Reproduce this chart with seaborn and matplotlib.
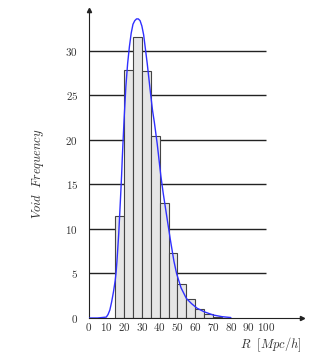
import numpy as np
import seaborn as sns
import matplotlib.pyplot as plt

# histogram of void radii
bin_edges = [15, 20, 25, 30, 35, 40, 45, 50, 55, 60, 65, 70, 75, 80]
counts = [11.5, 27.9, 31.6, 27.7, 20.5, 12.9, 7.3, 3.8, 2.1, 1.0, 0.48, 0.15, 0.05]

# fitted curve
curve_r = [0, 5, 10, 11, 12, 13, 14, 15, 15.5, 16, 17, 18, 18.6, 19, 20, 21, 22, 23,
           24, 25, 26, 27, 28, 29, 30, 31, 32, 33, 34, 35, 36, 37, 38.6, 40.7, 42,
           44, 46, 48, 49.5, 52, 55, 58, 61, 65, 70, 75, 80]
curve_f = [0, 0, 0.1, 0.4, 0.9, 1.8, 2.9, 4.2, 5.1, 6.4, 9.5, 13.5, 16, 18, 22.3, 26.0,
           28.6, 30.5, 32.0, 33.0, 33.4, 33.6, 33.6, 33.4, 32.8, 31.8, 30.2, 28.6, 26.8,
           25.0, 23.3, 22.0, 19.6, 15.9, 14.0, 11.4, 8.8, 6.4, 5.0, 3.4, 2.2, 1.6, 1.1,
           0.7, 0.34, 0.15, 0.05]

xticks = [0, 10, 20, 30, 40, 50, 60, 70, 80, 90, 100]
yticks = [0, 5, 10, 15, 20, 25, 30]

sns.set_style("white")
plt.rcParams['mathtext.fontset'] = 'cm'
plt.rcParams['font.family'] = ['cmr10', 'DejaVu Serif']
plt.rcParams['axes.formatter.use_mathtext'] = True

fig = plt.figure(figsize=(3.18, 3.59), dpi=100)
ax = fig.add_axes([88.5 / 318, 41 / 359, 213.5 / 318, 308 / 359])

ax.hlines(yticks[1:], 0, 100, color="#222222", linewidth=1, zorder=1)

centers = [(a + b) / 2 for a, b in zip(bin_edges[:-1], bin_edges[1:])]
sns.histplot(x=centers, weights=counts, bins=bin_edges, ax=ax, color="#e6e6e6",
             edgecolor="#444444", linewidth=0.8, alpha=1, zorder=2)
sns.lineplot(x=curve_r, y=curve_f, ax=ax, color="#3030ff", linewidth=1, zorder=3)

ax.set_xlim(0, 120)
ax.set_ylim(0, 34.6)
ax.set_xticks(xticks)
ax.set_yticks(yticks)
ax.tick_params(axis="both", direction="inout", length=3, width=0.8,
               labelsize=8, colors="#222222", labelcolor="#333333")
ax.tick_params(axis="y", pad=6)
ax.tick_params(axis="x", pad=1)
for s in ["top", "right"]:
    ax.spines[s].set_visible(False)
for s in ["left", "bottom"]:
    ax.spines[s].set_color("#222222")
    ax.spines[s].set_linewidth(0.8)

ax.plot(0, 1, "^", color="#222222", markersize=3, transform=ax.transAxes, clip_on=False)
ax.plot(1, 0, ">", color="#222222", markersize=3, transform=ax.transAxes, clip_on=False)

ax.set_ylabel(r"$Void\ \ Frequency$", fontsize=9, color="#333333")
ax.yaxis.set_label_coords(-0.2, 0.47)
ax.set_xlabel(r"$R\ \ [Mpc/h]$", fontsize=9, color="#333333")
ax.xaxis.set_label_coords(1.0, -0.058)
ax.xaxis.label.set_horizontalalignment("right")

fig.savefig("out.png", dpi=100)
